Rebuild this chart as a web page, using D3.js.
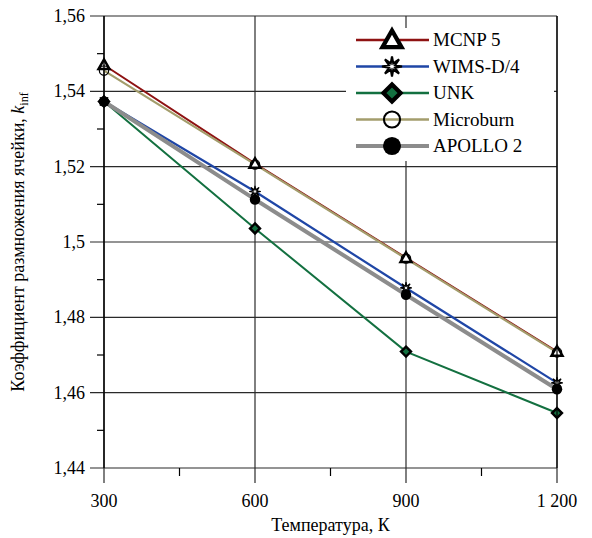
<!DOCTYPE html>
<html>
<head>
<meta charset="utf-8">
<script src="https://cdn.jsdelivr.net/npm/d3@7"></script>
<style>
  body { margin: 0; background: #fff; }
</style>
</head>
<body>
<div id="chart"></div>
<script>
// temperatures, K
var temps = [300, 600, 900, 1200]
// k_inf per code
var mcnp = [1.5470, 1.5208, 1.4958, 1.4709]
var wims = [1.5373, 1.5134, 1.4878, 1.4626]
var unk = [1.5373, 1.5036, 1.4709, 1.4546]
var microburn = [1.5455, 1.5206, 1.4956, 1.4707]
var apollo = [1.5373, 1.5113, 1.4860, 1.4609]

var seriesNames = ['MCNP 5', 'WIMS-D/4', 'UNK', 'Microburn', 'APOLLO 2']
var xTicks = [300, 600, 900, 1200]
var xMinor = [450, 750, 1050]
var yTicks = [1.44, 1.46, 1.48, 1.50, 1.52, 1.54, 1.56]
var yMinor = [1.45, 1.47, 1.49, 1.51, 1.53, 1.55]

var styles = [
  {color: '#8e1212', width: 2, marker: 'triangle'},
  {color: '#1f46a6', width: 2.2, marker: 'star'},
  {color: '#137040', width: 2, marker: 'diamond'},
  {color: '#a39d6c', width: 2.2, marker: 'circle'},
  {color: '#8c8c8c', width: 4, marker: 'dot'}
]
var values = [mcnp, wims, unk, microburn, apollo]

var W = 592, H = 538
var margin = {top: 16, right: 35, bottom: 70, left: 104},
    width = W - margin.left - margin.right,
    height = H - margin.top - margin.bottom

var x = d3.scaleLinear().domain([300, 1200]).range([0, width])
var y = d3.scaleLinear().domain([1.44, 1.56]).range([height, 0])

var svg = d3.select('#chart').append('svg')
    .attr('width', W)
    .attr('height', H)
    .attr('font-family', '"Liberation Serif", "Times New Roman", serif')
  .append('g')
    .attr('transform', 'translate(' + margin.left + ',' + margin.top + ')')

var gridColor = '#2a2a2a'

// horizontal grid (extends left as major tick)
svg.selectAll('.hgrid').data(yTicks).enter().append('line')
    .attr('x1', -14).attr('x2', width)
    .attr('y1', function(d){ return y(d) }).attr('y2', function(d){ return y(d) })
    .attr('stroke', gridColor).attr('stroke-width', 1.2)

// vertical grid (extends down as major tick)
svg.selectAll('.vgrid').data(xTicks).enter().append('line')
    .attr('x1', function(d){ return x(d) }).attr('x2', function(d){ return x(d) })
    .attr('y1', 0).attr('y2', height + 15)
    .attr('stroke', gridColor).attr('stroke-width', 1.2)

// minor ticks
svg.selectAll('.ymin').data(yMinor).enter().append('line')
    .attr('x1', -7).attr('x2', 0)
    .attr('y1', function(d){ return y(d) }).attr('y2', function(d){ return y(d) })
    .attr('stroke', '#000').attr('stroke-width', 1.2)
svg.selectAll('.xmin').data(xMinor).enter().append('line')
    .attr('x1', function(d){ return x(d) }).attr('x2', function(d){ return x(d) })
    .attr('y1', height).attr('y2', height + 8)
    .attr('stroke', '#000').attr('stroke-width', 1.2)

// tick labels
var fmtY = function(d){ return (+d.toFixed(2)).toString().replace('.', ',') }
var fmtX = function(d){ return d >= 1000 ? Math.floor(d / 1000) + '\u00a0' + d3.format('03d')(d % 1000) : String(d) }

svg.selectAll('.ylab').data(yTicks).enter().append('text')
    .attr('x', -19)
    .attr('y', function(d){ return y(d) + 6 })
    .attr('text-anchor', 'end')
    .attr('font-size', '18px')
    .text(fmtY)

svg.selectAll('.xlab').data(xTicks).enter().append('text')
    .attr('x', function(d){ return x(d) })
    .attr('y', height + 39)
    .attr('text-anchor', 'middle')
    .attr('font-size', '18px')
    .text(fmtX)

// axis titles
svg.append('text')
    .attr('x', width / 2)
    .attr('y', height + 63)
    .attr('text-anchor', 'middle')
    .attr('font-size', '18px')
    .text('Температура, К')

var yt = svg.append('text')
    .attr('transform', 'translate(' + (-80) + ',' + (height / 2) + ') rotate(-90)')
    .attr('text-anchor', 'middle')
    .attr('font-size', '18px')
yt.append('tspan').text('Коэффициент размножения ячейки, ')
yt.append('tspan').attr('font-style', 'italic').text('k')
yt.append('tspan').attr('font-size', '12px').attr('dy', 4).text('inf')

// markers
function drawMarker(g, type, cx, cy, s) {
  if (type === 'triangle') {
    var h = s * 1.0
    g.append('path')
      .attr('d', 'M' + cx + ',' + (cy - h) + 'L' + (cx + h) + ',' + (cy + h * 0.75) + 'L' + (cx - h) + ',' + (cy + h * 0.75) + 'Z')
      .attr('fill', '#fff').attr('stroke', '#000').attr('stroke-width', s * 0.45).attr('stroke-linejoin', 'miter')
  } else if (type === 'star') {
    var pts = []
    for (var i = 0; i < 16; i++) {
      var a = i * Math.PI / 8 - Math.PI / 2
      var r = i % 2 === 0 ? s * 1.05 : s * 0.35
      pts.push([cx + r * Math.cos(a), cy + r * Math.sin(a)])
    }
    g.append('path')
      .attr('d', 'M' + pts.join('L') + 'Z')
      .attr('fill', '#fff').attr('stroke', '#000').attr('stroke-width', s * 0.22)
  } else if (type === 'diamond') {
    g.append('path')
      .attr('d', 'M' + cx + ',' + (cy - s * 0.9) + 'L' + (cx + s * 0.9) + ',' + cy + 'L' + cx + ',' + (cy + s * 0.9) + 'L' + (cx - s * 0.9) + ',' + cy + 'Z')
      .attr('fill', '#137040').attr('stroke', '#000').attr('stroke-width', s * 0.45)
  } else if (type === 'circle') {
    g.append('circle').attr('cx', cx).attr('cy', cy).attr('r', s * 0.85)
      .attr('fill', 'none').attr('stroke', '#000').attr('stroke-width', s * 0.22)
  } else if (type === 'dot') {
    g.append('circle').attr('cx', cx).attr('cy', cy).attr('r', s * 0.95)
      .attr('fill', '#000')
  }
}

var line = d3.line()
    .x(function(d, i){ return x(temps[i]) })
    .y(function(d){ return y(d) })

// lines
values.forEach(function(vals, k){
  svg.append('path')
    .datum(vals)
    .attr('d', line)
    .attr('fill', 'none')
    .attr('stroke', styles[k].color)
    .attr('stroke-width', styles[k].width)
})

// point markers
var mk = svg.append('g')
values.forEach(function(vals, k){
  vals.forEach(function(v, i){
    drawMarker(mk, styles[k].marker, x(temps[i]), y(v), 5.5)
  })
})

// legend
var legX = 242, legY = 12
svg.append('rect')
    .attr('x', legX).attr('y', legY)
    .attr('width', 208).attr('height', 133)
    .attr('fill', '#fff')

var leg = svg.selectAll('.leg').data(seriesNames).enter().append('g')
    .attr('transform', function(d, i){ return 'translate(' + (legX + 10) + ',' + (legY + 12 + i * 26.5) + ')' })

leg.each(function(d, i){
  var g = d3.select(this)
  g.append('line')
    .attr('x1', 0).attr('x2', 73)
    .attr('y1', 0).attr('y2', 0)
    .attr('stroke', styles[i].color)
    .attr('stroke-width', styles[i].width === 4 ? 4 : 2.4)
  drawMarker(g, styles[i].marker, 36, 0, 9.5)
  g.append('text')
    .attr('x', 77)
    .attr('y', 6)
    .attr('font-size', '19px')
    .text(d)
})

// frame
svg.append('line').attr('x1', 0).attr('x2', 0).attr('y1', 0).attr('y2', height)
    .attr('stroke', '#000').attr('stroke-width', 1.4)
svg.append('line').attr('x1', width).attr('x2', width).attr('y1', 0).attr('y2', height)
    .attr('stroke', '#000').attr('stroke-width', 1.2)
</script>
</body>
</html>
